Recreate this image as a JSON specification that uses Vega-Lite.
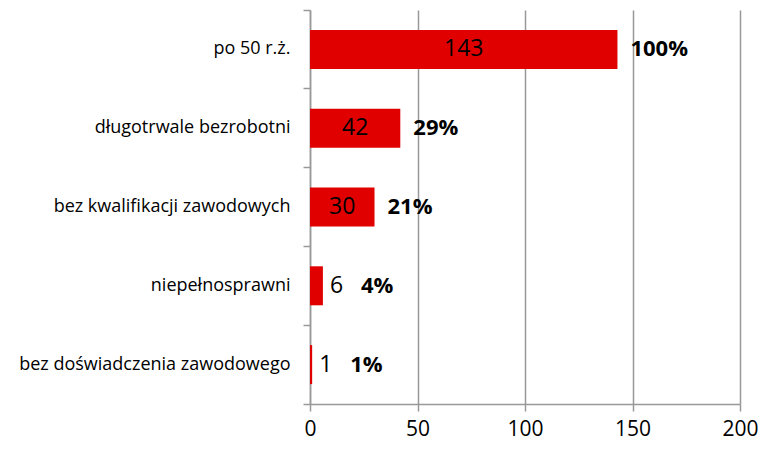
{
  "$schema": "https://vega.github.io/schema/vega-lite/v6.json",
  "width": 430,
  "height": 394,
  "autosize": {"type": "none"},
  "padding": {"left": 310, "top": 10, "right": 22, "bottom": 45},
  "background": "white",
  "config": {"view": {"stroke": null}, "font": "Open Sans"},
  "data": {
    "values": [
      {"category": "po 50 r.ż.", "value": 143, "pct": "100%"},
      {"category": "długotrwale bezrobotni", "value": 42, "pct": "29%"},
      {"category": "bez kwalifikacji zawodowych", "value": 30, "pct": "21%"},
      {"category": "niepełnosprawni", "value": 6, "pct": "4%"},
      {"category": "bez doświadczenia zawodowego", "value": 1, "pct": "1%"}
    ]
  },
  "encoding": {
    "y": {
      "field": "category", "type": "nominal", "sort": null,
      "scale": {"paddingInner": 0, "paddingOuter": 0},
      "axis": {
        "title": null, "grid": false, "bandPosition": 1, "tickExtra": true,
        "domainColor": "#999999", "domainWidth": 1.5, "tickColor": "#999999", "tickWidth": 1.5, "tickSize": 7,
        "labelFont": "Open Sans", "labelFontSize": 18, "labelColor": "#000000", "labelPadding": 13, "labelLimit": 400
      }
    }
  },
  "layer": [
    {
      "mark": {"type": "bar", "color": "#E00000", "size": 39},
      "encoding": {
        "x": {
          "field": "value", "type": "quantitative",
          "scale": {"domain": [0, 200], "nice": false},
          "axis": {
            "title": null, "values": [0, 50, 100, 150, 200], "grid": true,
            "gridColor": "#999999", "gridWidth": 1.5, "gridOpacity": 1,
            "domainColor": "#999999", "domainWidth": 1.5, "tickColor": "#999999", "tickWidth": 1.5, "tickSize": 7,
            "labelFont": "Open Sans", "labelFontSize": 21, "labelColor": "#000000", "labelPadding": 7, "labelFlush": false
          }
        }
      }
    },
    {
      "transform": [{"filter": "datum.value >= 10"}],
      "mark": {"type": "text", "align": "center", "baseline": "middle", "fontSize": 23, "color": "#000000", "font": "Open Sans"},
      "encoding": {
        "x": {"field": "value", "type": "quantitative", "scale": {"domain": [0, 400], "nice": false}, "axis": null},
        "text": {"field": "value", "type": "quantitative"}
      }
    },
    {
      "transform": [{"filter": "datum.value < 10"}],
      "mark": {"type": "text", "align": "left", "baseline": "middle", "fontSize": 23, "color": "#000000", "dx": 7, "font": "Open Sans"},
      "encoding": {
        "x": {"field": "value", "type": "quantitative", "scale": {"domain": [0, 200], "nice": false}, "axis": null},
        "text": {"field": "value", "type": "quantitative"}
      }
    },
    {
      "transform": [{"filter": "datum.value >= 10"}],
      "mark": {"type": "text", "align": "left", "baseline": "middle", "fontSize": 22, "fontWeight": "bold", "color": "#000000", "dx": 13, "font": "Open Sans"},
      "encoding": {
        "x": {"field": "value", "type": "quantitative", "scale": {"domain": [0, 200], "nice": false}, "axis": null},
        "text": {"field": "pct", "type": "nominal"}
      }
    },
    {
      "transform": [{"filter": "datum.value < 10"}],
      "mark": {"type": "text", "align": "left", "baseline": "middle", "fontSize": 22, "fontWeight": "bold", "color": "#000000", "dx": 38, "font": "Open Sans"},
      "encoding": {
        "x": {"field": "value", "type": "quantitative", "scale": {"domain": [0, 200], "nice": false}, "axis": null},
        "text": {"field": "pct", "type": "nominal"}
      }
    }
  ],
  "resolve": {"scale": {"x": "independent"}, "axis": {"x": "independent"}}
}
